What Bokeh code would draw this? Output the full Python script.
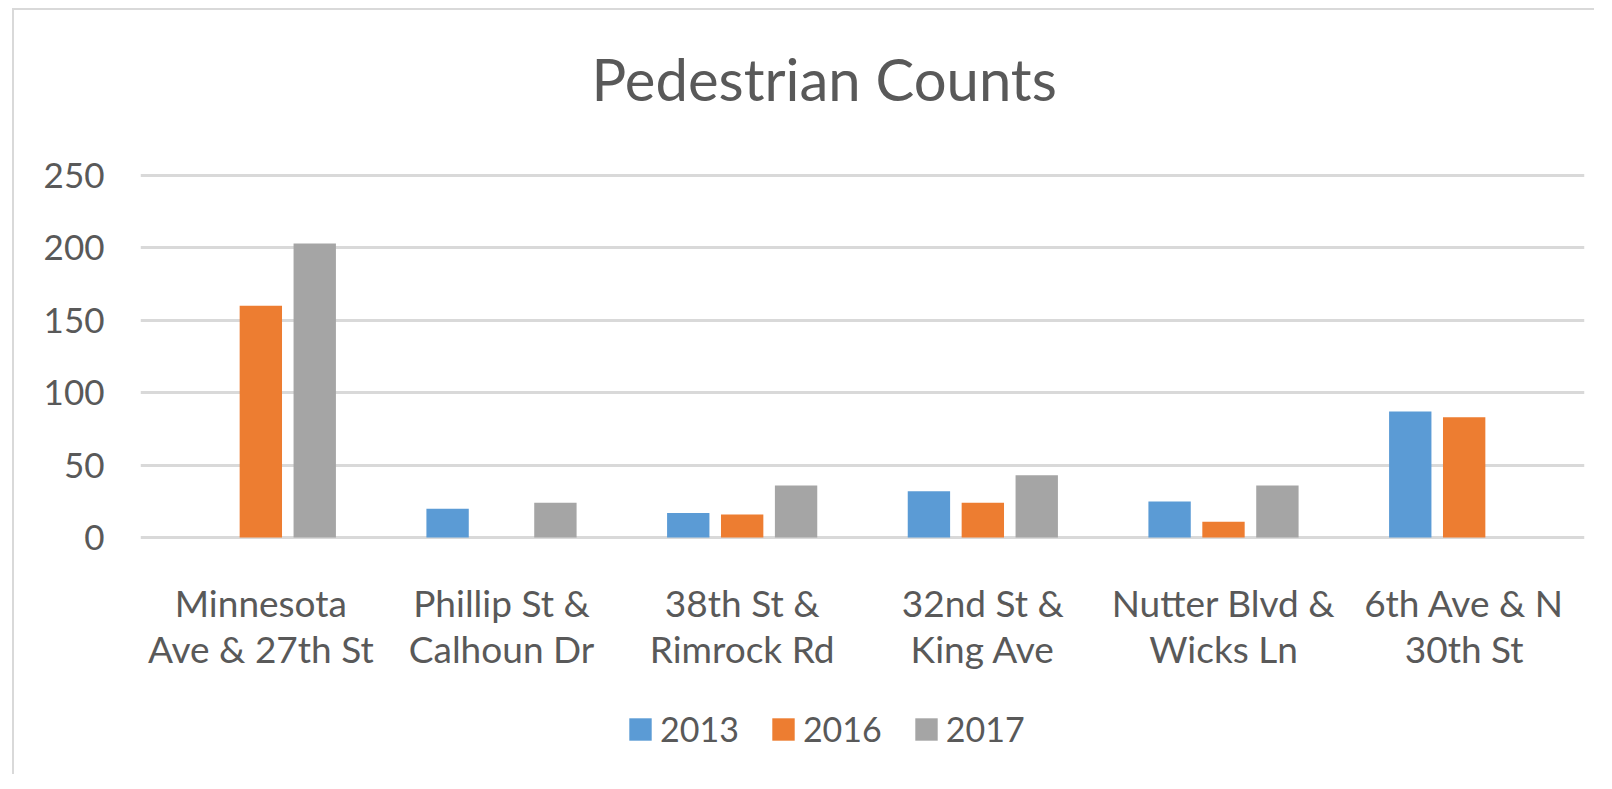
from bokeh.plotting import figure
from bokeh.models import Range1d, FixedTicker, Legend, LegendItem, Title
from bokeh.core.properties import value
from bokeh.embed import file_html
from bokeh.resources import INLINE

categories = ["Minnesota\nAve & 27th St", "Phillip St &\nCalhoun Dr", "38th St &\nRimrock Rd",
              "32nd St &\nKing Ave", "Nutter Blvd &\nWicks Ln", "6th Ave & N\n30th St"]
years = ["2013", "2016", "2017"]
v2013 = [0, 20, 17, 32, 25, 87]
v2016 = [160, 0, 16, 24, 11, 83]
v2017 = [203, 24, 36, 43, 36, 0]
y_ticks = [0, 50, 100, 150, 200, 250]

colors = ["#5B9BD5", "#ED7D31", "#A5A5A5"]
series = [v2013, v2016, v2017]
offsets = [-0.224, 0.0, 0.224]
bar_w = 0.176
txt = "#595959"
font = "Lato"

# value area: 368 px for -2..252; the frame is extended downwards to hold the
# category labels and the legend (so nothing is clipped)
y_top = 252
value_px = 368
px_per_unit = value_px / (y_top - (-2))
extra_px = 230
y_bottom = -2 - extra_px / px_per_unit

p = figure(frame_width=1444, frame_height=value_px + extra_px, output_backend="svg",
           toolbar_location=None, x_range=Range1d(0, 6), y_range=Range1d(y_bottom, y_top),
           min_border_left=126, min_border_right=10, min_border_top=162, min_border_bottom=4)
p.outline_line_color = None
p.background_fill_color = "white"
p.border_fill_color = "white"
p.margin = (8, 0, 0, 12)
p.styles = {"border-left": "2px solid #d9d9d9", "border-top": "2px solid #d9d9d9"}

xc = [i + 0.5 for i in range(len(categories))]
renderers = []
for vals, off, col in zip(series, offsets, colors):
    r = p.vbar(x=[x + off for x in xc], top=vals, bottom=0, width=bar_w,
               fill_color=col, line_color=None)
    renderers.append(r)

# category labels (two lines each), placed below the zero line
line1 = [c.split("\n")[0] for c in categories]
line2 = [c.split("\n")[1] for c in categories]
for lines, dpx in ((line1, 65.3), (line2, 111.3)):
    p.text(x=xc, y=[-dpx / px_per_unit] * len(xc), text=lines,
           text_font=value(font), text_font_size=value("37px"), text_color=txt,
           text_align="center", text_baseline="alphabetic")

p.xaxis.visible = False
p.xgrid.grid_line_color = None

p.yaxis.ticker = FixedTicker(ticks=y_ticks)
p.yaxis.axis_line_color = None
p.yaxis.major_tick_line_color = None
p.yaxis.minor_tick_line_color = None
p.yaxis.major_label_text_font = font
p.yaxis.major_label_text_font_size = "35px"
p.yaxis.major_label_text_color = txt
p.yaxis.major_label_standoff = 30
p.ygrid.ticker = FixedTicker(ticks=y_ticks)
p.ygrid.grid_line_color = "#d9d9d9"
p.ygrid.grid_line_width = 3

# title: spacer panel next to the frame, then the real title above it
p.title = None
spacer = Title(text=" ", text_font_size="1px", standoff=57)
p.add_layout(spacer, "above")
p.add_layout(Title(text="Pedestrian Counts", text_font=font, text_font_style="normal",
                   text_font_size="58px", text_color=txt, align="left", offset=451,
                   standoff=0), "above")

legend = Legend(items=[LegendItem(label=y, renderers=[r]) for y, r in zip(years, renderers)],
                orientation="horizontal", location=(486, 21))
legend.border_line_color = None
legend.background_fill_alpha = 0
legend.label_text_font = font
legend.label_text_font_size = "34px"
legend.label_text_color = txt
legend.glyph_width = 28
legend.glyph_height = 28
legend.label_standoff = 6
legend.spacing = 30
legend.padding = 0
legend.margin = 0
p.add_layout(legend, "center")

open("out.html", "w").write(file_html(p, INLINE))
